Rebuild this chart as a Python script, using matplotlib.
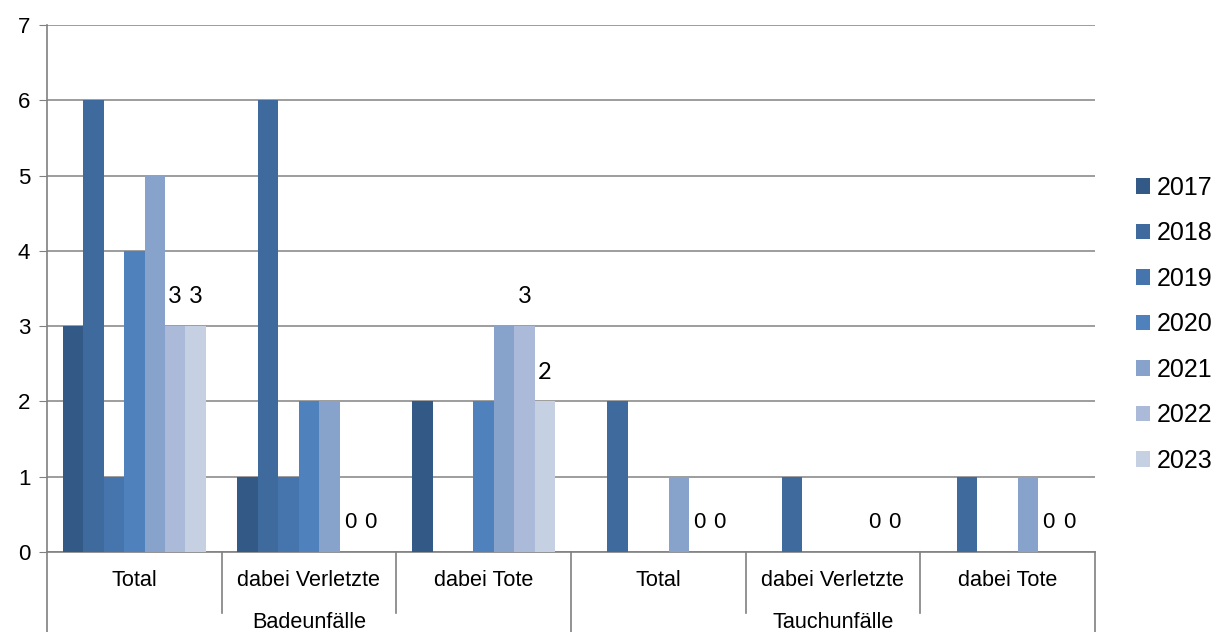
import numpy as np
import matplotlib.pyplot as plt

plt.rcParams['font.family'] = ['Liberation Sans', 'DejaVu Sans']

categories = ['Total', 'dabei Verletzte', 'dabei Tote',
              'Total', 'dabei Verletzte', 'dabei Tote']
groups = ['Badeunfälle', 'Tauchunfälle']
years = ['2017', '2018', '2019', '2020', '2021', '2022', '2023']

v2017 = [3, 1, 2, 0, 0, 0]
v2018 = [6, 6, 0, 2, 1, 1]
v2019 = [1, 1, 0, 0, 0, 0]
v2020 = [4, 2, 2, 0, 0, 0]
v2021 = [5, 2, 3, 1, 0, 1]
v2022 = [3, 0, 3, 0, 0, 0]
v2023 = [3, 0, 2, 0, 0, 0]
series = [v2017, v2018, v2019, v2020, v2021, v2022, v2023]

colors = ['#335a87', '#3e6a9e', '#4675ad', '#4f81bd',
          '#87a2cb', '#abbad8', '#c5d0e3']

fig = plt.figure(figsize=(12.3, 6.32), dpi=100)
ax = fig.add_axes([0.0382, 0.1266, 0.8520, 0.8338])

x = np.arange(len(categories))
width = 0.117
n = len(series)
for i, vals in enumerate(series):
    pos = x + (i - (n - 1) / 2) * width
    bars = ax.bar(pos, vals, width, color=colors[i], label=years[i], zorder=3)
    # only the last two series carry data labels
    if i >= 5:
        for p, v in zip(pos, vals):
            if v == 0:
                fam = ['Liberation Sans']
                fs = 16
            else:
                fam = ['Lato', 'DejaVu Sans']
                fs = 17
            ax.annotate(str(v), (p, v), xytext=(0, 21), textcoords='offset points',
                        ha='center', va='center', fontsize=fs, family=fam)

ax.set_xlim(-0.5, len(categories) - 0.5)
ax.set_ylim(0, 7)
ax.set_yticks(range(8))
ax.tick_params(axis='y', labelsize=16, length=6, color='#808080', pad=6)
ax.set_xticks([])
ax.grid(axis='y', color='#8c8c8c', linewidth=1.2, zorder=0)
for s in ['top', 'right']:
    ax.spines[s].set_visible(False)
ax.spines['left'].set_color('#808080')
ax.spines['bottom'].set_color('#808080')
ax.spines['left'].set_linewidth(1.2)
ax.spines['bottom'].set_linewidth(1.2)

# category table below the axis
trans = ax.get_xaxis_transform()
for b in np.arange(-0.5, len(categories), 1.0):
    long_line = b in (-0.5, 2.5, 5.5)
    ybot = -0.25 if long_line else -0.115
    ax.plot([b, b], [0, ybot], transform=trans, color='#808080',
            linewidth=1.2, clip_on=False)
for xi, c in zip(x, categories):
    ax.text(xi, -0.054, c, transform=trans, ha='center', va='center', fontsize=15.6)
for gi, g in enumerate(groups):
    ax.text(gi * 3 + 1, -0.133, g, transform=trans, ha='center', va='center',
            fontsize=15.6)

ax.legend(loc='center left', bbox_to_anchor=(1.03, 0.432), frameon=False,
          fontsize=18, handlelength=0.55, handleheight=0.55, handletextpad=0.25,
          labelspacing=0.86, borderaxespad=0)

fig.savefig('out.png', dpi=100)
